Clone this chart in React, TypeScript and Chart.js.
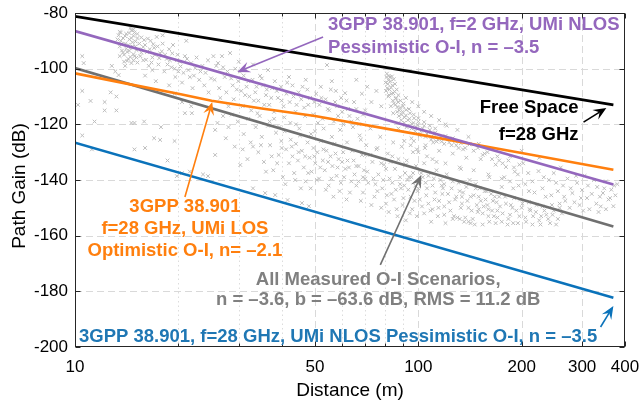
import React, { useEffect, useRef } from 'react';
import { Chart, registerables } from 'chart.js';

Chart.register(...registerables);

// ---------- axis ticks ----------
const xTickValues = [10, 50, 100, 200, 300, 400];
const xMinorTicks = [20, 30, 40, 60, 70, 80, 90];
const yTickValues = [-200, -180, -160, -140, -120, -100, -80];

// ---------- model lines (distance m, path gain dB) ----------
const freeSpaceDist = [10, 370];
const freeSpaceGain = [-81.2, -113];

const umiNlos2Dist = [10, 370];
const umiNlos2Gain = [-86.5, -141.6];

const umiLos28Dist = [10, 15, 20, 25, 35, 50, 100, 200, 370];
const umiLos28Gain = [-101.7, -106, -109, -111.5, -114.3, -117, -123.6, -130.3, -136.3];

const measuredFitDist = [10, 370];
const measuredFitGain = [-99.8, -156.7];

const umiNlos28Dist = [10, 370];
const umiNlos28Gain = [-126.6, -182.3];

// ---------- measured O-I samples [distance, path gain] ----------
const measuredCluster1: number[][] = [
  [13.4,-88],[13.6,-90],[13.5,-92],[13.8,-89],[13.7,-93.5],[13.9,-95],[14.0,-91],[14.1,-87.5],[14.2,-94],[14.3,-96.5],
  [14.4,-89.5],[14.5,-92.5],[14.6,-98],[14.7,-90.5],[14.8,-94.8],[14.9,-87],[15.0,-92],[15.1,-96],[13.5,-95.5],[13.9,-97.5],
  [14.3,-91.5],[14.6,-86.2],[15.2,-89],[14.0,-99],[13.6,-87],[14.8,-97],[14.5,-85.4],[14.8,-86],
  [13.3,-89.5],[13.5,-86.8],[13.7,-91.2],[13.8,-94.2],[14.0,-88.3],[14.1,-92.8],[14.2,-97.2],[14.4,-87.2],[14.4,-93.6],[14.5,-95.8],
  [14.6,-89],[14.7,-92],[14.8,-88.2],[14.9,-95.5],[15.0,-90.2],[15.1,-93.3],[15.2,-97.8],
];
const measuredCluster2: number[][] = [
  [15.3,-93],[15.5,-95.5],[15.6,-88.8],[15.8,-97],[16.0,-91.5],[16.2,-94],[16.4,-99],[16.6,-90],[16.8,-96],[17.0,-92.5],
  [17.3,-88.6],[17.5,-98.5],[17.7,-94.5],[18.0,-91],[18.2,-101],[18.5,-96.5],[18.8,-93],[19.1,-99.5],[19.3,-91.5],[19.6,-103],
  [19.9,-95],[20.2,-97.5],[20.5,-105],[20.9,-95.5],[21.1,-90],[21.4,-100.5],[21.8,-98],[22.2,-102.5],[22.6,-96],[23.0,-104],
  [23.5,-99],[24.0,-101.5],[24.4,-97],[24.9,-103.5],[25.3,-95.5],[16.0,-102.5],[17.2,-104.5],[18.8,-106],[22.0,-107],[24.5,-108.5],
  [15.9,-89.7],[18.0,-88],[15.2,-87.5],[16.8,-100.5],[20.0,-101],
  [15.4,-91],[15.6,-94.2],[15.8,-92.2],[16.1,-96.8],[16.3,-89.2],[16.5,-93],[16.7,-97.8],[16.9,-91.2],[17.1,-95],[17.4,-92],
  [17.6,-96.2],[17.9,-93.8],[18.3,-95],[18.6,-98.5],[18.9,-97],[19.2,-94.5],[19.5,-100],[19.8,-97],[20.3,-99.2],[20.7,-101.5],
  [21.2,-96.5],[21.6,-103],[22.4,-99.8],[23.2,-101],[23.8,-106],
];
const measuredSparseLeft: number[][] = [
  [10.5,-95.5],[10.6,-98],[10.5,-108],[10.2,-113],[11.1,-111.6],[12.2,-112],[12.2,-115],[13.2,-115],[12.7,-108.5],[13.2,-110],
  [11.4,-119],[10.5,-124],[11.2,-129],[14.6,-119.5],[14.9,-119.5],[15.9,-119],[17.8,-121],[17.0,-125],[17.7,-125.6],[14.9,-129],
  [16.0,-128.5],[19.5,-126],[18.6,-133],[19.8,-138.6],[20.5,-137.5],[21.6,-137],[23.6,-138],[24.4,-138.6],[25.6,-131],[20.5,-112],
  [21.8,-113.5],[21.9,-116],[20.9,-116],[19.5,-109],[13.1,-101],[12.8,-99],[13.4,-102.3],
];
const measuredBandMid: number[][] = [
  [25.8,-99],[26.1,-98],[26.8,-95.5],[27.3,-103],[27.8,-101],[28.3,-94.4],[28.8,-106],[29.3,-100],[29.9,-104.5],[30.5,-108],
  [31.0,-102.5],[31.6,-106.5],[32.2,-110],[32.9,-104],[33.5,-108.5],[34.2,-111.5],[34.6,-102.6],[35.3,-106],[36.0,-109.5],[36.8,-113],
  [37.5,-107],[38.2,-104.5],[39.0,-110.5],[39.8,-106.5],[40.5,-113.5],[41.3,-109],[42.2,-112],[43.0,-106],[43.9,-115.5],[44.8,-108.5],
  [45.6,-111],[46.5,-114],[47.5,-107.5],[48.4,-110.5],[49.4,-116.5],[50.4,-109],[51.5,-113],[52.6,-118],[53.7,-111],[54.2,-98.7],
  [55.0,-115],[56.0,-104.5],[57.2,-112],[58.4,-117],[59.6,-110.5],[61.2,-108.8],[62.4,-114.5],[63.8,-119],[65.0,-112],[26.5,-110.5],
  [28.0,-113.5],[30.0,-97.5],[33.0,-98.5],[36.5,-100.5],[42.0,-103],[47.0,-104],[52.0,-106.5],[57.5,-108],[60.5,-120],
  [25.5,-104],[26.3,-107],[27.0,-99.5],[27.6,-108.5],[28.5,-103.5],[29.0,-111],[29.6,-107.5],[30.2,-101],[30.8,-113.5],[31.3,-109.5],
  [32.0,-104.5],[32.6,-115],[33.2,-111.5],[33.8,-106.5],[34.5,-117],[35.0,-103.5],[35.6,-113],[36.2,-107.5],[36.9,-119],[37.3,-110.5],
  [38.0,-115.5],[38.7,-108],[39.4,-121],[40.0,-111.5],[40.7,-117.5],[41.5,-105],[42.4,-119.5],[43.3,-110],[44.2,-113],[45.0,-121.5],
  [46.0,-106.5],[46.8,-117],[47.8,-113],[48.7,-123.5],[49.8,-112],[51.0,-119.5],[52.2,-110.5],[53.0,-121.5],[54.5,-114.5],[55.6,-107.5],
  [56.8,-119],[58.0,-113.5],[59.2,-122],[60.0,-115.5],[61.8,-111.5],[63.0,-117],[64.5,-121],[66.0,-114.5],[67.2,-120],[69.0,-116.5],
  [66,-104],[68.5,-109],[71,-106.5],[73,-112],[75.5,-108],[78,-113.5],[70,-115],
];
const measuredCloudMid: number[][] = [
  [26.0,-119.5],[25.6,-122],[27.0,-117],[28.0,-121],[29.2,-128],[30.3,-134.6],[29.8,-119],[31.0,-123.5],[32.0,-118],[32.5,-126.5],
  [33.0,-143],[33.6,-121],[34.2,-130],[35.0,-124.5],[35.8,-144.7],[35.5,-133.5],[36.5,-120.5],[37.0,-127.5],[37.8,-136.5],[38.3,-145.4],
  [38.5,-123],[39.2,-131],[39.9,-126],[40.3,-139],[40.8,-122.5],[41.2,-129],[41.6,-147.2],[42.0,-134],[42.5,-125.5],[43.0,-131.5],
  [43.5,-137.5],[44.0,-127],[44.6,-133],[45.2,-124],[45.8,-148.3],[45.8,-129.5],[46.4,-135.5],[47.0,-140.5],[47.6,-126.5],[48.0,-149.4],
  [48.2,-132],[48.9,-137],[49.5,-128.5],[50.1,-134],[50.8,-130],[51.4,-139.5],[52.0,-126],[52.7,-133],[53.4,-136.5],[54.0,-129.5],
  [54.8,-142],[55.5,-131.5],[56.2,-135],[57.0,-127],[57.8,-138.5],[58.6,-132.5],[59.5,-141],[60.4,-130],[61.3,-136],[62.2,-133],
  [63.2,-144.5],[64.2,-129.5],[65.2,-138],[34.0,-116],[38.0,-118],[44.0,-120],[50.0,-122.5],[56.0,-124.5],[62.0,-126.5],
  [27.5,-125],[28.6,-116.5],[30.8,-129],[31.8,-132.5],[33.0,-128],[34.8,-127.5],[36.0,-137],[37.4,-131.5],[38.8,-134],[40.0,-128.5],
  [41.0,-141.5],[42.8,-128],[43.8,-140],[44.8,-130],[45.5,-143],[46.8,-131.5],[47.8,-137.5],[48.6,-143],[49.8,-131.5],[50.6,-140],
  [51.8,-135.5],[52.9,-129],[53.8,-143.5],[54.6,-133.5],[55.8,-139.5],[56.6,-146],[57.4,-130.5],[58.2,-135.5],[59.0,-144],[60.0,-133.5],
  [60.8,-139],[61.8,-147],[62.8,-135.5],[63.8,-140.5],[64.8,-133],[66.0,-142],[67.0,-135],[68.0,-147.5],[69.0,-139],[70.0,-131],
];
const measuredSpike: number[][] = [
  [80.8,-103],[81.5,-105.5],[82.0,-102.6],[82.4,-107.5],[83.0,-104.5],[83.5,-109],[84.0,-106],[84.3,-111.5],[84.8,-103.8],[85.3,-108.2],
  [85.8,-113],[86.2,-110.5],[86.8,-115.5],[87.3,-112],[81.8,-110],[83.2,-113.5],[80.5,-108],[87.8,-117],[88.5,-114],[89.2,-118.5],
  [90.0,-115.5],[91.0,-119.5],[92.0,-116.8],[93.0,-120.5],[94.2,-118],[95.5,-121.5],[96.8,-119.5],[98.0,-122.5],[99.5,-120.2],[101,-123.5],
  [103,-121.5],[105,-124.5],[107,-122.8],[109,-125.5],[111,-123.5],[113,-126.2],[116,-124.5],[119,-127],[122,-125.3],[125,-127.5],
  [128,-126],[131,-128.5],[90.5,-112.5],[94,-114.5],[97,-116.5],[100,-117.8],[104,-119.2],[108,-120.5],[112,-121.5],
  [80.3,-105],[81.0,-101.8],[81.2,-107],[81.9,-104.2],[82.2,-109.5],[82.7,-103],[83.3,-106.8],[83.8,-102.8],[84.5,-108.8],[84.9,-112.5],
  [85.5,-105.5],[85.9,-110.8],[86.5,-107.5],[86.9,-113.8],[87.5,-109.5],[88.0,-115],[88.8,-111.5],[89.5,-116.5],[90.3,-113.5],[91.2,-117.5],
  [92.2,-114.8],[93.3,-118.5],[94.6,-116],[95.8,-119.8],[97.2,-117.8],[98.6,-121],[100,-119],[102,-122.3],[104,-120.5],[106,-123.5],
  [108,-122],[110,-124.8],[112,-123],[114,-125.5],[117,-126.2],[120,-124.2],[123,-126.5],[126,-125],[129,-127.5],[133,-126.8],
  [137,-128.5],[141,-127.2],[145,-129.5],[149,-128.5],[154,-131],[159,-130],[164,-132.5],[170,-131.5],[176,-134],[183,-133],
  [190,-135.5],[197,-134.5],[84.5,-116],[87.5,-121.5],[92.5,-121],[95.5,-125],[101,-124],[104.5,-128.5],[110.5,-126.5],
  [92,-110.5],[96,-112],[100,-113.5],[104,-115.5],[109,-117],[115,-118.5],[121,-120.5],
  [95,-127.5],[99,-129],[106,-131.5],[113,-133.5],[91,-126],
];
const measuredCloudRight: number[][] = [
  [66.5,-118],[67.5,-124],[68.5,-131],[69.5,-136.5],[70.5,-127.5],[71.5,-141],[72.5,-121.5],[73.5,-133.5],[74.5,-146],[75.5,-129],
  [76.5,-138],[77.5,-124.5],[78.5,-143],[79.5,-134.5],[80.5,-148.5],[81.5,-130.5],[82.5,-139.5],[83.5,-145],[84.5,-126.5],[85.5,-136],
  [86.5,-150.5],[87.5,-132.5],[88.5,-141.5],[89.5,-128],[90.5,-146.5],[91.5,-137.5],[92.5,-133],[93.5,-143.5],[94.5,-152],[95.5,-139],
  [96.5,-130],[97.5,-147.5],[98.5,-135],[99.5,-144],[101,-140.5],[102.5,-149.5],[104,-134],[105.5,-145.5],[107,-138.5],[108.5,-151],
  [110,-142],[111.5,-147],[113,-136.5],[114.5,-150],[116,-140],[117.5,-145],[119,-152.5],[121,-138],[123,-148],[125,-143],
  [127,-153],[129,-146],[131,-141],[133,-150],[135,-144.5],[137,-153.5],[139,-147.5],[141,-140],[143,-151],[145,-145.5],
  [148,-149],[151,-143],[154,-152],[157,-147],[160,-150.5],[163,-145],[166,-153],[169,-148],
  [68,-125.5],[72.5,-131],[76,-128.5],[80.5,-136],[84,-131.5],[88.5,-139],[92,-134.5],[96.5,-137.5],[100,-143],[70,-139.5],
  [78,-134],[86,-143.5],[94,-139],[102,-137.5],[110,-150.5],[118,-143],[126,-154],[134,-146],[142,-155.5],[150,-150.5],
  [100,-130],[105,-127.5],[110,-132.5],[115,-129.5],[120,-134],[126,-130.5],[132,-135.5],[138,-132],[145,-136.5],[152,-132.5],
  [160,-138],[168,-134.5],[175,-139.5],[120,-120],[130,-122],[140,-124.5],[150,-127],[97,-126],[135,-129],[156,-130.5],
  [66,-135],[67,-140.5],[69,-144.5],[71,-137],[73,-149],[74,-139.5],[76,-144],[78,-150],[79,-140],[81,-145.5],
  [82,-151.5],[84,-141],[85,-147],[87,-153],[89,-143],[90,-149],[92,-154.5],[93,-140],[95,-146],[96,-150.5],
  [98,-142],[99,-153],[101,-147],[103,-139],[104,-152],[106,-143],[107,-148.5],[109,-155],[111,-139.5],[112,-144.5],
  [114,-153],[115,-147.5],[117,-142],[119,-149.5],[120,-155.5],[122,-145],[124,-151],[126,-140.5],[128,-147],[130,-153.5],
  [132,-144],[134,-148.5],[136,-155],[138,-142.5],[140,-150],[142,-146],[144,-154],[147,-143],[149,-151.5],[152,-147.5],
  [154,-156],[156,-144],[159,-149],[161,-155],[164,-151],[167,-146],
  [75,-141.5],[83,-133.5],[91,-142],[105,-141],[119,-141.5],[133,-136],[147,-141.5],[161,-139],
];
const measuredFar: number[][] = [
  [172,-133],[178,-139],[180,-135.3],[185,-131.5],[191,-137],[196,-142],[202,-134],[209,-137.5],[215,-140.5],[224,-136.8],
  [230,-143],[240,-140],[248,-137.5],[255,-144],[264,-142],[272,-139.5],[281,-144.7],[290,-141],[300,-143.6],[310,-146.5],
  [320,-145],[332,-142.5],[345,-144.7],[352,-140.5],[358,-147],[365,-143.5],[370,-149.4],[285,-148],[330,-148.5],[305,-138.5],
  [260,-135.5],[225,-132],[200,-129.5],
  [150,-146],[155,-149.5],[160,-153],[165,-147.5],[170,-151],[175,-155],[180,-148.5],[185,-152.5],[190,-146.5],[195,-155.5],
  [200,-150],[205,-153.5],[210,-148],[215,-156],[220,-151.5],[225,-154.5],[230,-149.5],[236,-152.5],[242,-155.5],[248,-151],
  [255,-154],[262,-152],[158,-144],[172,-146],[188,-150],[198,-147],[212,-151],[228,-153],[245,-149],[182,-156],
  [168,-155.5],[140,-155],[132,-154],[146,-156],
  [268,-147.5],[276,-150],[295,-149],[315,-150.5],[340,-149.5],[375,-145.5],[380,-141.5],
  [170,-153.5],[173,-149.5],[176,-152],[179,-146],[183,-154],[186,-149],[189,-155.5],[193,-151],[197,-153],[201,-148.5],
  [206,-155],[211,-150.5],[216,-153],[221,-149],[227,-156],[233,-151],[239,-154],[246,-152.5],[252,-156],[258,-150],
  [175,-142.5],[189,-143],[210,-144],[235,-146],
  [185,-140.5],[195,-138],[205,-141.5],[218,-144.5],[232,-139],[244,-145.5],[252,-141],[266,-146],[278,-143],[288,-138.5],
  [298,-146.5],[312,-142],[325,-140],[338,-146],[348,-143],[362,-146.5],[372,-142],[258,-148.5],[302,-151],[335,-151.5],
  [352,-150.5],
];

const measuredPoints = [
  ...measuredCluster1, ...measuredCluster2, ...measuredSparseLeft, ...measuredBandMid,
  ...measuredCloudMid, ...measuredSpike, ...measuredCloudRight, ...measuredFar,
];

// ---------- styling ----------
const FONT = '"Liberation Sans", Arial, Helvetica, sans-serif';
const C_BLACK = '#000000';
const C_PURPLE = '#9467bd';
const C_ORANGE = '#ff7f0e';
const C_GRAY = '#707070';
const C_GRAY_TEXT = '#808080';
const C_BLUE = '#0a72ba';
const C_BLUE_TEXT = '#1f77b4';

// annotations: text anchors and arrows expressed in data coordinates
const notes = [
  { lines: ['3GPP 38.901, f=2 GHz, UMi NLOS', 'Pessimistic O-I, n = \u20133.5'], x: 54.6, ys: [-84.3, -92.6], align: 'left', color: C_PURPLE },
  { lines: ['Free Space', 'f=28 GHz'], x: 292.8, ys: [-114.1, -123.8], align: 'right', color: C_BLACK },
  { lines: ['3GPP 38.901', 'f=28 GHz, UMi LOS', 'Optimistic O-I, n= \u20132.1'], x: 20.9, ys: [-149.7, -157.6, -165.5], align: 'center', color: C_ORANGE },
  { lines: ['All Measured O-I Scenarios,', 'n = \u20133.6, b = \u201363.6 dB, RMS = 11.2 dB'], x: 76.4, ys: [-176, -183.1], align: 'center', color: C_GRAY_TEXT },
  { lines: ['3GPP 38.901, f=28 GHz, UMi NLOS Pessimistic O-I, n = \u20133.5'], x: 10.27, ys: [-196.4], align: 'left', color: C_BLUE_TEXT },
];
const arrows = [
  { from: [52.8, -88.6], to: [29.7, -101.2], color: C_PURPLE },
  { from: [302.9, -119.2], to: [353, -114.1], color: C_BLACK },
  { from: [20.9, -146.1], to: [25.1, -112], color: C_ORANGE },
  { from: [77.5, -170.5], to: [102, -138.2], color: C_GRAY },
  { from: [339.5, -192.8], to: [370, -185.3], color: C_BLUE },
];

const toXY = (ds: number[], gs: number[]) => ds.map((d, i) => ({ x: d, y: gs[i] }));

const decorPlugin = {
  id: 'decor',
  beforeDatasetsDraw(chart: any) {
    const { ctx, chartArea: a, scales } = chart;
    const xs = scales.x, ys = scales.y;
    ctx.save();
    ctx.lineWidth = 1;
    ctx.strokeStyle = '#d9d9d9';
    ctx.setLineDash([7, 4]);
    for (const v of yTickValues) {
      if (v === -200 || v === -80) continue;
      const py = Math.round(ys.getPixelForValue(v)) + 0.5;
      ctx.beginPath(); ctx.moveTo(a.left, py); ctx.lineTo(a.right, py); ctx.stroke();
    }
    for (const v of xTickValues) {
      if (v === 10 || v === 400) continue;
      const px = Math.round(xs.getPixelForValue(v)) + 0.5;
      ctx.beginPath(); ctx.moveTo(px, a.top); ctx.lineTo(px, a.bottom); ctx.stroke();
    }
    ctx.strokeStyle = '#dcdcdc';
    ctx.setLineDash([1.5, 3]);
    for (const v of xMinorTicks) {
      const px = Math.round(xs.getPixelForValue(v)) + 0.5;
      ctx.beginPath(); ctx.moveTo(px, a.top); ctx.lineTo(px, a.bottom); ctx.stroke();
    }
    ctx.restore();
  },
  afterDatasetsDraw(chart: any) {
    const { ctx, chartArea: a, scales } = chart;
    const xs = scales.x, ys = scales.y;
    ctx.save();
    // box
    ctx.strokeStyle = '#262626';
    ctx.lineWidth = 1;
    ctx.setLineDash([]);
    const L = Math.round(a.left) + 0.5, R = Math.round(a.right) - 0.5;
    const T = Math.round(a.top) + 0.5, B = Math.round(a.bottom) - 0.5;
    ctx.strokeRect(L, T, R - L, B - T);
    // ticks
    ctx.beginPath();
    for (const v of yTickValues) {
      const py = Math.round(ys.getPixelForValue(v)) + 0.5;
      ctx.moveTo(L, py); ctx.lineTo(L + 5, py);
      ctx.moveTo(R, py); ctx.lineTo(R - 5, py);
    }
    for (const v of xTickValues) {
      const px = Math.round(xs.getPixelForValue(v)) + 0.5;
      ctx.moveTo(px, B); ctx.lineTo(px, B - 5);
      ctx.moveTo(px, T); ctx.lineTo(px, T + 5);
    }
    for (const v of xMinorTicks) {
      const px = Math.round(xs.getPixelForValue(v)) + 0.5;
      ctx.moveTo(px, B); ctx.lineTo(px, B - 3);
      ctx.moveTo(px, T); ctx.lineTo(px, T + 3);
    }
    ctx.stroke();

    // axis titles
    ctx.fillStyle = '#000';
    ctx.font = `19px ${FONT}`;
    ctx.textAlign = 'center';
    ctx.textBaseline = 'middle';
    ctx.fillText('Distance (m)', (a.left + a.right) / 2, a.bottom + 44);
    ctx.save();
    ctx.translate(20, (a.top + a.bottom) / 2 + 6);
    ctx.rotate(-Math.PI / 2);
    ctx.fillText('Path Gain (dB)', 0, 0);
    ctx.restore();

    // arrows
    for (const ar of arrows) {
      const x0 = xs.getPixelForValue(ar.from[0]), y0 = ys.getPixelForValue(ar.from[1]);
      const x1 = xs.getPixelForValue(ar.to[0]), y1 = ys.getPixelForValue(ar.to[1]);
      const ang = Math.atan2(y1 - y0, x1 - x0);
      const len = 13, half = 5.5, notch = 8;
      const cos = Math.cos(ang), sin = Math.sin(ang);
      ctx.strokeStyle = ar.color;
      ctx.fillStyle = ar.color;
      ctx.lineWidth = 1.6;
      ctx.beginPath();
      ctx.moveTo(x0, y0);
      ctx.lineTo(x1 - cos * notch, y1 - sin * notch);
      ctx.stroke();
      ctx.beginPath();
      ctx.moveTo(x1, y1);
      ctx.lineTo(x1 - cos * len - sin * half, y1 - sin * len + cos * half);
      ctx.lineTo(x1 - cos * notch, y1 - sin * notch);
      ctx.lineTo(x1 - cos * len + sin * half, y1 - sin * len - cos * half);
      ctx.closePath();
      ctx.fill();
    }

    // notes
    ctx.font = `bold 18.5px ${FONT}`;
    ctx.textBaseline = 'middle';
    for (const n of notes) {
      ctx.fillStyle = n.color;
      ctx.textAlign = n.align as CanvasTextAlign;
      const px = xs.getPixelForValue(n.x);
      n.lines.forEach((t, i) => {
        ctx.fillText(t, px, ys.getPixelForValue(n.ys[i]));
      });
    }
    ctx.restore();
  },
};

export default function App() {
  const ref = useRef<HTMLCanvasElement | null>(null);
  useEffect(() => {
    if (!ref.current) return;
    const chart = new Chart(ref.current, {
      type: 'scatter',
      data: {
        datasets: [
          { data: toXY(freeSpaceDist, freeSpaceGain), showLine: true, borderColor: C_BLACK, borderWidth: 2.6, pointRadius: 0, order: 1 },
          { data: toXY(umiNlos2Dist, umiNlos2Gain), showLine: true, borderColor: C_PURPLE, borderWidth: 2.6, pointRadius: 0, order: 2 },
          { data: toXY(umiLos28Dist, umiLos28Gain), showLine: true, borderColor: C_ORANGE, borderWidth: 2.6, pointRadius: 0, order: 3 },
          { data: toXY(measuredFitDist, measuredFitGain), showLine: true, borderColor: C_GRAY, borderWidth: 2.6, pointRadius: 0, order: 4 },
          { data: toXY(umiNlos28Dist, umiNlos28Gain), showLine: true, borderColor: C_BLUE, borderWidth: 2.6, pointRadius: 0, order: 5 },
          {
            data: measuredPoints.map(([d, g]) => ({ x: d, y: g })),
            showLine: false, pointStyle: 'crossRot', pointRadius: 2.6, borderWidth: 1,
            borderColor: '#bcbcbc', backgroundColor: '#bcbcbc', order: 10,
          },
        ],
      },
      options: {
        animation: false,
        responsive: true,
        maintainAspectRatio: false,
        events: [],
        layout: { padding: { left: 0, right: 14, top: 13, bottom: 0 } },
        plugins: { legend: { display: false }, tooltip: { enabled: false } },
        scales: {
          x: {
            type: 'logarithmic',
            min: 10,
            max: 400,
            afterBuildTicks: (s: any) => { s.ticks = xTickValues.map((v) => ({ value: v })); },
            afterFit: (s: any) => { s.height = 58; s.paddingLeft = 0; s.paddingRight = 0; },
            grid: { display: false, drawTicks: false },
            border: { display: false },
            ticks: {
              autoSkip: false, maxRotation: 0, padding: 10, color: '#000',
              font: { family: FONT, size: 17 },
              callback: (v: any) => String(v),
            },
          },
          y: {
            min: -200,
            max: -80,
            afterBuildTicks: (s: any) => { s.ticks = yTickValues.map((v) => ({ value: v })); },
            afterFit: (s: any) => { s.width = 75; s.paddingTop = 0; s.paddingBottom = 0; },
            grid: { display: false, drawTicks: false },
            border: { display: false },
            ticks: {
              padding: 7, color: '#000',
              font: { family: FONT, size: 17 },
              callback: (v: any) => String(v),
            },
          },
        },
      },
      plugins: [decorPlugin],
    });
    return () => chart.destroy();
  }, []);
  return (
    <div style={{ position: 'absolute', left: 0, top: 0, width: 639, height: 405, background: '#fff' }}>
      <canvas ref={ref} />
    </div>
  );
}
